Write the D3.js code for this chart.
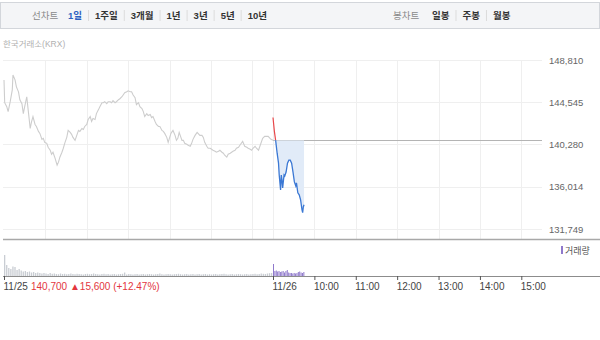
<!DOCTYPE html>
<html>
<head>
<meta charset="utf-8">
<script src="https://cdn.jsdelivr.net/npm/d3@7"></script>
<style>
body { margin: 0; background: #fff; }
svg { display: block; font-family: "Liberation Sans", "Noto Sans CJK KR", sans-serif; }
</style>
</head>
<body>
<div id="chart"></div>
<script>
// ---- data ----
const periodTabs = ["1일", "1주일", "3개월", "1년", "3년", "5년", "10년"];
const candleTabs = ["일봉", "주봉", "월봉"];
const priceTicks = [131749, 136014, 140280, 144545, 148810];
const prevClose = 140700;

// minutes after 09:00, 11/25
const t25 = [0,1,4,6,9,12,13,16,18,21,23,26,28,30,33,35,38,40,42,45,
  47,50,52,55,57,59,62,64,67,69,71,74,77,79,81,84,86,88,91,93,
  96,98,100,103,105,108,110,113,115,117,120,122,125,127,129,132,134,137,139,142,
  144,146,149,151,154,156,158,161,163,166,168,171,173,175,178,180,183,185,187,190,
  192,195,197,200,202,204,207,209,212,214,216,219,221,224,226,229,231,233,236,238,
  242,244,245,248,250,252,254,258,260,262,265,267,270,272,274,277,280,284,287,289,
  291,294,296,299,301,303,306,308,311,313,316,318,320,323,325,328,330,332,335,337,
  340,342,346,349,352,354,357,359,361,364,366,369,371,375,378,381,383,387,390];
const p25 = [146800,144500,144100,143600,144600,145800,147300,146800,146100,145600,144800,144400,143400,144100,145100,143800,141900,142600,143100,142300,
  142100,141600,141400,140800,140900,140500,140400,140000,139700,139300,139500,138900,138200,138500,139000,139500,139900,140400,141000,141700,
  141500,141300,141000,140700,141100,141700,141600,141900,141800,142100,142300,142800,143100,142600,142900,142800,143400,143800,144100,144500,
  144500,144600,144400,144600,144600,144500,144700,144500,144600,144800,144900,145100,145300,145500,145600,145700,145600,145600,145300,145000,
  144300,144500,144100,143900,143600,143100,143400,143200,143300,143000,143100,142600,142300,142100,142100,141700,141600,141400,141000,140500,
  141400,141600,141700,141200,140700,140900,141500,140700,140700,140400,140300,140200,140100,140400,140800,141200,141500,141200,141200,141000,
  140500,140100,139900,139900,139800,139700,139600,139500,139600,139700,139500,139400,139200,139000,139300,139400,139500,139600,139700,139900,
  140000,140200,140600,140100,140000,139900,139800,139700,139900,140100,139900,139700,140100,140900,141100,141100,141100,140800,140700];

// minutes after 09:00, 11/26
const t26 = [0,2,4,6,8,9,11,12,13,14,16,17,19,21,23,25,27,29,31,33,34,36,38,40,42,43,44,45];
const p26 = [143000,141600,140600,139400,138400,137200,135700,137200,136700,135900,137200,137100,137500,138400,138700,138700,138400,137500,136500,136100,136400,135400,135200,134700,133700,133400,134000,134200];

// volume (thousand shares), one value every volStep minutes
const volStep25 = 3;
const vol25 = [210,110,80,70,95,90,60,70,55,45,50,40,45,35,40,30,35,30,25,30,
  25,20,30,22,25,20,18,25,20,22,
  18,20,25,20,18,22,20,18,15,20,
  22,18,20,25,20,18,15,20,22,18,
  20,15,18,20,15,18,20,22,35,15,
  20,18,15,18,20,15,18,20,15,18,
  20,18,15,18,20,25,18,15,18,20,
  18,15,18,20,22,18,15,18,20,15,
  18,20,15,18,20,15,18,20,15,18,
  15,18,20,15,18,20,22,18,15,18,
  20,15,18,20,18,15,18,20,15,18,
  20,22,18,20,25,22,20,25,28,30];
const volStep26 = 2;
const vol26 = [120,50,55,45,50,40,45,50,35,50,60,35,30,30,25,30,25,30,40,45,35,30,40];

const sessionLen = 390;
const gridTimes = [60,120,180,240,300,360,390,450,510,570,630,690,750];
const timeTicks = [0,390,450,510,570,630,690,750];
const timeLabels = ["11/25","11/26","10:00","11:00","12:00","13:00","14:00","15:00"];
const changeText = "140,700 \u25B215,600 (+12.47%)";

// ---- drawing ----
const W = 600, H = 340;
const svg = d3.select("#chart").append("svg").attr("width", W).attr("height", H);

const x = d3.scaleLinear().domain([0, 780]).range([4, 542]);
const y = d3.scaleLinear().domain([131749, 148810]).range([229, 60]);
const yVol = d3.scaleLinear().domain([0, 300]).range([276, 246]);

// top tab bar
svg.append("rect").attr("x", 0.5).attr("y", 2.5).attr("width", 599).attr("height", 26)
   .attr("fill", "#f4f5f7").attr("stroke", "#d3d6db");

const tabs = svg.append("g").attr("font-size", 9.5).attr("font-weight", "bold");
tabs.append("text").attr("x", 32).attr("y", 19).attr("fill", "#8a8a8a").attr("font-weight", "normal").text("선차트");
let tx = 68;
periodTabs.forEach((t, i) => {
    const el = tabs.append("text").attr("x", tx).attr("y", 19)
        .attr("fill", i == 0 ? "#2d5fc1" : "#333").text(t);
    const w = el.node().getComputedTextLength();
    tx += w + 13;
    if (i < periodTabs.length - 1) {
        tabs.append("line").attr("x1", tx - 6.5).attr("x2", tx - 6.5).attr("y1", 10).attr("y2", 21)
            .attr("stroke", "#dcdcdc");
    }
});
tabs.append("text").attr("x", 393).attr("y", 19).attr("fill", "#8a8a8a").attr("font-weight", "normal").text("봉차트");
tx = 432;
candleTabs.forEach((t, i) => {
    const el = tabs.append("text").attr("x", tx).attr("y", 19).attr("fill", "#333").text(t);
    tx += el.node().getComputedTextLength() + 13;
    if (i < candleTabs.length - 1) {
        tabs.append("line").attr("x1", tx - 6.5).attr("x2", tx - 6.5).attr("y1", 10).attr("y2", 21)
            .attr("stroke", "#dcdcdc");
    }
});

svg.append("text").attr("x", 3).attr("y", 47).attr("font-size", 8.5).attr("fill", "#b0b0b0")
   .text("한국거래소(KRX)");

// grid
svg.append("g").selectAll("line").data(priceTicks).enter().append("line")
   .attr("x1", 3).attr("x2", 542)
   .attr("y1", (d) => Math.round(y(d)) + 0.5).attr("y2", (d) => Math.round(y(d)) + 0.5)
   .attr("stroke", "#efefef");
svg.append("g").selectAll("line").data(gridTimes).enter().append("line")
   .attr("x1", (d) => Math.round(x(d)) + 0.5).attr("x2", (d) => Math.round(x(d)) + 0.5)
   .attr("y1", 60).attr("y2", 239)
   .attr("stroke", "#efefef");

// price axis
const ya = svg.append("g").attr("transform", "translate(542,0)")
   .call(d3.axisRight(y).tickValues(priceTicks).tickSize(0).tickPadding(7).tickFormat(d3.format(",")));
ya.select(".domain").remove();
ya.selectAll("text").attr("fill", "#666").attr("font-size", 9.5).attr("font-family", null);

// previous close line
const yRef = y(prevClose);
svg.append("line").attr("x1", x(sessionLen)).attr("x2", 542)
   .attr("y1", Math.round(yRef) + 0.5).attr("y2", Math.round(yRef) + 0.5)
   .attr("stroke", "#b4b4b4");

// 11/25 line
const d25 = t25.map((t, i) => [t, p25[i]]);
const d26 = t26.map((t, i) => [t + sessionLen, p26[i]]);
const line = d3.line().x((d) => x(d[0])).y((d) => y(d[1]));

svg.append("path").datum(d25).attr("d", line)
   .attr("fill", "none").attr("stroke", "#cdcdcd").attr("stroke-width", 1.1);

// 11/26 line, split at previous close
const defs = svg.append("defs");
defs.append("clipPath").attr("id", "above").append("rect")
    .attr("x", 0).attr("y", 0).attr("width", W).attr("height", yRef);
defs.append("clipPath").attr("id", "below").append("rect")
    .attr("x", 0).attr("y", yRef).attr("width", W).attr("height", H - yRef);

const area = d3.area().x((d) => x(d[0])).y0(yRef).y1((d) => y(d[1]));
svg.append("path").datum(d26).attr("d", area).attr("clip-path", "url(#below)")
   .attr("fill", "#e1ebf8");
svg.append("path").datum(d26).attr("d", line).attr("clip-path", "url(#above)")
   .attr("fill", "none").attr("stroke", "#e8474a").attr("stroke-width", 1.2);
svg.append("path").datum(d26).attr("d", line).attr("clip-path", "url(#below)")
   .attr("fill", "none").attr("stroke", "#3b78d4").attr("stroke-width", 1.3);

// panel divider
svg.append("line").attr("x1", 3).attr("x2", 600).attr("y1", 239.5).attr("y2", 239.5)
   .attr("stroke", "#a8a8a8").attr("stroke-width", 1.3);

// volume
svg.append("g").selectAll("rect").data(vol25).enter().append("rect")
   .attr("x", (d, i) => x(i * volStep25))
   .attr("width", 1.3)
   .attr("y", (d) => yVol(d))
   .attr("height", (d) => yVol(0) - yVol(d))
   .attr("fill", "#c9cdd3");
svg.append("g").selectAll("rect").data(vol26).enter().append("rect")
   .attr("x", (d, i) => x(sessionLen + i * volStep26))
   .attr("width", 1)
   .attr("y", (d) => yVol(d))
   .attr("height", (d) => yVol(0) - yVol(d))
   .attr("fill", "#8f79cc");

svg.append("rect").attr("x", 561).attr("y", 246).attr("width", 2).attr("height", 8).attr("fill", "#8f79cc");
svg.append("text").attr("x", 565).attr("y", 253.5).attr("font-size", 9).attr("fill", "#555").text("거래량");

// time axis
svg.append("line").attr("x1", 3).attr("x2", 600).attr("y1", 276.5).attr("y2", 276.5)
   .attr("stroke", "#8c8c8c");
const xa = svg.append("g").attr("transform", "translate(0,276)")
   .call(d3.axisBottom(x).tickValues(timeTicks).tickSize(4).tickPadding(3)
         .tickFormat((d, i) => timeLabels[i]));
xa.select(".domain").remove();
xa.selectAll("line").attr("stroke", "#555");
xa.selectAll("text").attr("text-anchor", "start").attr("dx", -1)
  .attr("fill", "#444").attr("font-size", 10).attr("font-family", null);

svg.append("text").attr("x", 31).attr("y", 289.5).attr("font-size", 10).attr("fill", "#e3363d")
   .text(changeText);
</script>
</body>
</html>
